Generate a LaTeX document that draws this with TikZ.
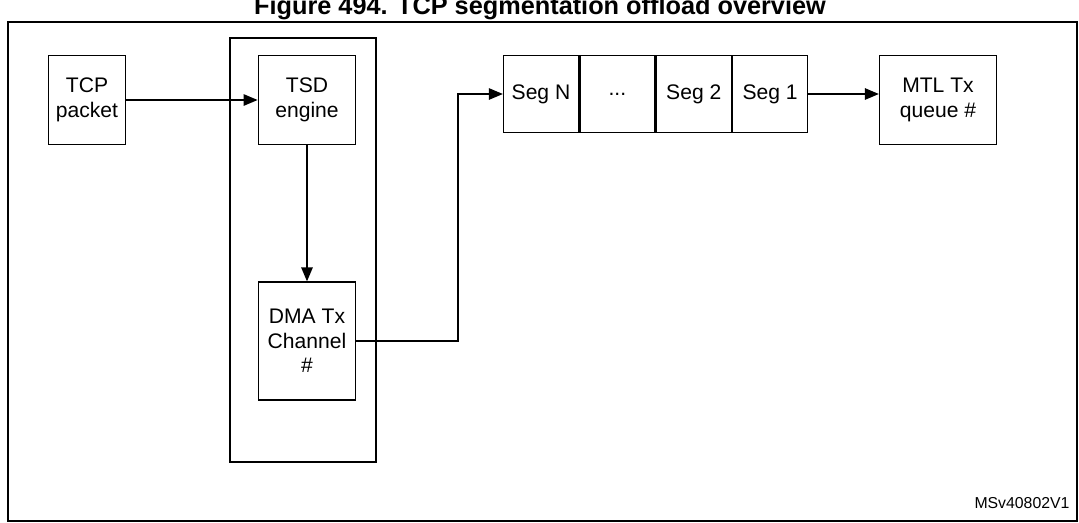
\documentclass[tikz,border=0pt]{standalone}
\usepackage{fontspec}
\setmainfont{Liberation Sans}
\usetikzlibrary{arrows, positioning}

\tikzset{blk/.style={draw,thick,minimum width=1.95cm,minimum height=1.78cm,align=center,font=\large},
         seg/.style={draw,thick,minimum width=1.5cm,minimum height=1.54cm,align=center,font=\large}}

\begin{document}
\begin{tikzpicture}[x=0.02cm,y=-0.02cm,->,>=triangle 45,every path/.append style={thick}]
	\useasboundingbox (0,0) rectangle (1079,522);
	\node[font=\bfseries\Large,anchor=base] (title) at (540,14) {Figure 494. TCP segmentation offload overview};
	\draw[-] (8,22) rectangle (1077,521);
	\draw[-] (230,38) rectangle (376,462);
	
	\node[blk,minimum width=1.55cm] (tcp) at (87,100) {TCP\\packet};
	\node[blk] (tsd) at (307,100) {TSD\\engine};
	\node[blk,minimum height=2.36cm] (dma) at (307,341) {DMA Tx\\Channel\\\#};
	
	\node[seg] (sN) at (541,94) {Seg N};
	\node[seg] (sD) [right=0pt of sN] {...};
	\node[seg] (s2) [right=0pt of sD] {Seg 2};
	\node[seg] (s1) [right=0pt of s2] {Seg 1};
	\node[blk,minimum width=2.34cm] (mtl) at (938,100) {MTL Tx\\queue \#};
	
	\draw (tcp) -- (tsd);
	\draw (tsd) -- (dma);
	\draw (dma.east) -| (458,94) -- (sN.west);
	\draw (s1) -- (s1 -| mtl.west);
	
	\node[font=\small,anchor=east] (id) at (1076,503) {MSv40802V1};
\end{tikzpicture}
\end{document}
